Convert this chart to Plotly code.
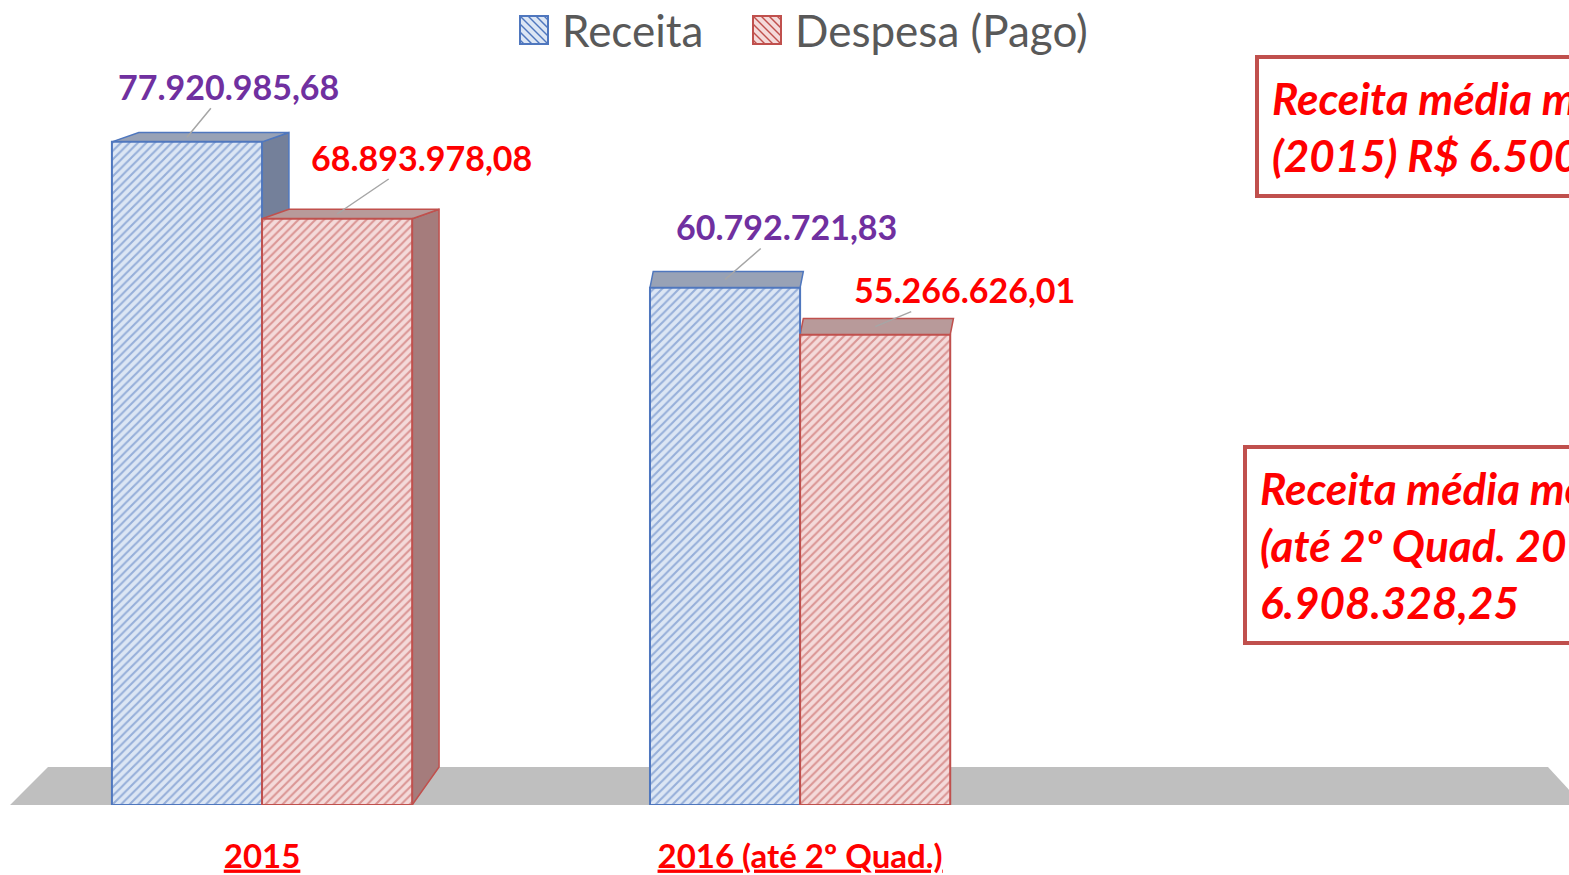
import plotly.graph_objects as go

# ---------------- data ----------------
categories = ["2015", "2016 (até 2º Quad.)"]
series_names = ["Receita", "Despesa (Pago)"]
receita = [77920985.68, 60792721.83]
despesa = [68893978.08, 55266626.01]
receita_labels = ["77.920.985,68", "60.792.721,83"]
despesa_labels = ["68.893.978,08", "55.266.626,01"]
box1_lines = ["Receita média mensal", "(2015) R$ 6.500.000,00"]
box2_lines = ["Receita média mensal", "(até 2º Quad. 2016) R$", "6.908.328,25"]

# ---------------- style / geometry ----------------
FONT = "Lato"
W = 0.279                      # bar width (x units)
XPOS = list(range(len(categories)))
DEPTH_DX = [0.05, 0.006]       # perspective offsets of the 3D faces
DEPTH_DV = [1.1e6, 1.9e6]
FLOOR_TOP = 4.47e6
YMAX = 87.54e6

BLUE_LINE = "#4F77BE"
BLUE_BG = "#DCE6F4"
RED_LINE = "#C0504D"
RED_BG = "#F4DADA"

fig = go.Figure()

fig.add_trace(go.Bar(
    name=series_names[0], x=XPOS, y=receita, width=W, offset=-W,
    marker=dict(color=BLUE_BG, line=dict(color=BLUE_LINE, width=2),
                pattern=dict(shape="/", fgcolor=BLUE_LINE, bgcolor=BLUE_BG,
                             size=6, solidity=0.35)),
    hoverinfo="skip", showlegend=False,
))
fig.add_trace(go.Bar(
    name=series_names[1], x=XPOS, y=despesa, width=W, offset=0,
    marker=dict(color=RED_BG, line=dict(color=RED_LINE, width=2),
                pattern=dict(shape="/", fgcolor=RED_LINE, bgcolor=RED_BG,
                             size=6, solidity=0.35)),
    hoverinfo="skip", showlegend=False,
))

shapes = []
# floor
shapes.append(dict(type="path", xref="paper", yref="y", layer="below",
                   path=f"M 0.0064,0 L 0.0306,{FLOOR_TOP} L 0.9866,{FLOOR_TOP} L 1,{FLOOR_TOP*0.4} L 1,0 Z",
                   fillcolor="#BFBFBF", line=dict(width=0)))


def faces(x0, v, dx, dv, side_col, top_col, edge_col, draw_side):
    x1 = x0 + W
    out = []
    if draw_side:
        out.append(dict(type="path", xref="x", yref="y", layer="below",
                        path=f"M {x1},0 L {x1},{v} L {x1+dx},{v+dv} L {x1+dx},{FLOOR_TOP} Z",
                        fillcolor=side_col, line=dict(color=edge_col, width=1.5)))
    out.append(dict(type="path", xref="x", yref="y", layer="below",
                    path=f"M {x0},{v} L {x1},{v} L {x1+dx},{v+dv} L {x0+dx},{v+dv} Z",
                    fillcolor=top_col, line=dict(color=edge_col, width=1.5)))
    return out


for i, xc in enumerate(XPOS):
    side = DEPTH_DX[i] > 0.02
    shapes += faces(xc - W, receita[i], DEPTH_DX[i], DEPTH_DV[i],
                    "#74809A", "#98A2B6", BLUE_LINE, side)
    shapes += faces(xc, despesa[i], DEPTH_DX[i], DEPTH_DV[i],
                    "#A57C7C", "#B89A9A", RED_LINE, side)

# manual legend (large hatched squares)
PW, PH = 1569.0, 875.0
PLOT_TOP, PLOT_BOT = 60.0, 805.0


def px2paper(px, py):
    return px / PW, (PLOT_BOT - py) / (PLOT_BOT - PLOT_TOP)


legend_items = [(520, BLUE_BG, BLUE_LINE), (753, RED_BG, RED_LINE)]
for (lx, bg, ln) in legend_items:
    x0, y0 = px2paper(lx, 44)
    x1, y1 = px2paper(lx + 28, 16)
    shapes.append(dict(type="rect", xref="paper", yref="paper", x0=x0, x1=x1,
                       y0=y0, y1=y1, fillcolor=bg, line=dict(color=ln, width=2)))
    for k in range(-3, 4):
        ax0, ay0 = lx + k * 8, 16
        ax1, ay1 = lx + 28 + k * 8, 44
        if ax0 < lx:
            ay0 += lx - ax0
            ax0 = lx
        if ax1 > lx + 28:
            ay1 -= ax1 - (lx + 28)
            ax1 = lx + 28
        if ax1 <= ax0:
            continue
        p0 = px2paper(ax0, ay0)
        p1 = px2paper(ax1, ay1)
        shapes.append(dict(type="line", xref="paper", yref="paper",
                           x0=p0[0], y0=p0[1], x1=p1[0], y1=p1[1],
                           line=dict(color=ln, width=1.5)))

annotations = []
legend_text_x = [560, 793]
for name, tx in zip(series_names, legend_text_x):
    px, py = px2paper(tx, 30)
    annotations.append(dict(x=px, y=py, xref="paper", yref="paper", xanchor="left",
                            yanchor="middle", text=name, showarrow=False,
                            font=dict(family=FONT, size=44, color="#595959")))

# value labels with leader lines
label_offsets_r = [(42, -51), (61, -53)]
label_offsets_d = [(84, -57), (89, -37)]
for i, xc in enumerate(XPOS):
    annotations.append(dict(
        x=xc - W / 2, y=receita[i] + DEPTH_DV[i] / 2, xref="x", yref="y",
        text=f"<b>{receita_labels[i]}</b>", showarrow=True, arrowhead=0,
        arrowwidth=1.5, arrowcolor="#A6A6A6", ax=label_offsets_r[i][0],
        ay=label_offsets_r[i][1], standoff=0,
        font=dict(family=FONT, size=34, color="#7030A0")))
    annotations.append(dict(
        x=xc + W / 2, y=despesa[i] + DEPTH_DV[i] / 2, xref="x", yref="y",
        text=f"<b>{despesa_labels[i]}</b>", showarrow=True, arrowhead=0,
        arrowwidth=1.5, arrowcolor="#A6A6A6", ax=label_offsets_d[i][0],
        ay=label_offsets_d[i][1], standoff=0,
        font=dict(family=FONT, size=34, color="#FF0000")))

# right-side boxes
b1x, b1y = px2paper(1255, 55)
b2x, b2y = px2paper(1243, 445)
for bx, by, lines in [(b1x, b1y, box1_lines), (b2x, b2y, box2_lines)]:
    annotations.append(dict(
        x=bx, y=by, xref="paper", yref="paper", xanchor="left", yanchor="top",
        text="<br>".join(f"<b><i>{t}</i></b>" for t in lines), align="left",
        showarrow=False, bordercolor="#C0504D", borderwidth=4, borderpad=13,
        bgcolor="white", font=dict(family=FONT, size=44, color="#FF0000")))

fig.update_layout(
    width=1569, height=875,
    margin=dict(l=0, r=0, t=60, b=70),
    paper_bgcolor="white", plot_bgcolor="white",
    barmode="overlay",
    shapes=shapes, annotations=annotations,
    showlegend=False,
    xaxis=dict(range=[-0.487, 2.429], tickmode="array", tickvals=XPOS,
               ticktext=[f"<b><u>{c}</u></b>" for c in categories],
               tickfont=dict(family=FONT, size=33, color="#FF0000"),
               ticks="outside", ticklen=22, tickcolor="rgba(0,0,0,0)",
               showgrid=False, zeroline=False, showline=False, automargin=False),
    yaxis=dict(range=[0, YMAX], visible=False, showgrid=False, zeroline=False,
               automargin=False),
    font=dict(family=FONT),
)

fig.write_html("out.html", config={"displayModeBar": False},
               post_script="document.body.style.margin='0px';document.body.style.overflow='hidden';")
